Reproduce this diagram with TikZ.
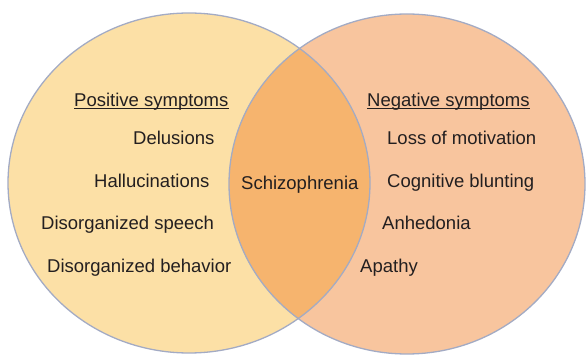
\documentclass[tikz,border=0pt]{standalone}
\usepackage{fontspec}
\setmainfont{Liberation Sans}
\definecolor{leftfill}{RGB}{252,224,166}
\definecolor{rightfill}{RGB}{248,197,158}
\definecolor{midfill}{RGB}{246,180,110}
\definecolor{rimcol}{RGB}{163,171,196}
\definecolor{txtcol}{RGB}{35,31,32}
\tikzset{
  lbl/.style={anchor=base west, inner sep=0pt, text=txtcol, font=\fontsize{18.5}{20}\selectfont},
  rim/.style={draw=rimcol, line width=1.3pt},
  uline/.style={draw=txtcol, line width=1pt}
}
\begin{document}
\begin{tikzpicture}[x=1pt,y=-1pt]
\useasboundingbox (0,0) rectangle (587,355);
% ellipses
\fill[leftfill] (189,183) ellipse [x radius=181, y radius=170];
\fill[rightfill] (407,184) ellipse [x radius=178, y radius=170];
\begin{scope}
  \clip (189,183) ellipse [x radius=181, y radius=170];
  \fill[midfill] (407,184) ellipse [x radius=178, y radius=170];
\end{scope}
\draw[rim] (189,183) ellipse [x radius=181, y radius=170];
\draw[rim] (407,184) ellipse [x radius=178, y radius=170];
% left texts
\node[lbl] (pos) at (74,107) {Positive symptoms};
\draw[uline] ([yshift=-2pt]pos.base west) -- ([yshift=-2pt]pos.base east);
\node[lbl] (del) at (133,145) {Delusions};
\node[lbl] (hal) at (94,188) {Hallucinations};
\node[lbl] (dsp) at (41,230) {Disorganized speech};
\node[lbl] (dbe) at (47,273) {Disorganized behavior};
% middle
\node[lbl] (sch) at (241,190) {Schizophrenia};
% right texts
\node[lbl] (neg) at (367,107) {Negative symptoms};
\draw[uline] ([yshift=-2pt]neg.base west) -- ([yshift=-2pt]neg.base east);
\node[lbl] (los) at (387,145) {Loss of motivation};
\node[lbl] (cog) at (387,188) {Cognitive blunting};
\node[lbl] (anh) at (382,230) {Anhedonia};
\node[lbl] (apa) at (360,273) {Apathy};
\end{tikzpicture}
\end{document}
